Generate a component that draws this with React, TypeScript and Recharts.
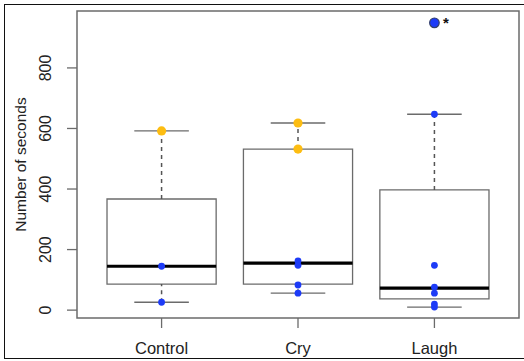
import { ComposedChart, LabelList, ReferenceArea, ReferenceLine, Scatter, XAxis, YAxis } from "recharts"

const groups = ["Control", "Cry", "Laugh"]
const lowerWhisker = [26, 56, 10]
const lowerQuartile = [86, 86, 37]
const medians = [145, 155, 73]
const upperQuartile = [367, 532, 397]
const upperWhisker = [592, 618, 647]

// observations drawn on top of each box
const yellowPoints = [[592], [618, 532], []]
const bluePoints = [[145, 26], [163, 148, 83, 56], [647, 148, 76, 56, 20, 10]]
const outlierPoints = [[], [], [949]]
const outlierMark = "*"

const yTicks = [0, 200, 400, 600, 800]
const xDomain: [number, number] = [0.38, 3.62]
const yDomain: [number, number] = [-26, 988]

const yellow = "#FDBD12"
const blue = "#1D3BF7"
const boxStroke = "#6b6b6b"
const whiskerStroke = "#555"
const textColor = "#222"
const font = "'Liberation Sans', Arial, sans-serif"

const toPoints = (lists: number[][]) =>
  lists.flatMap((values, i) => values.map((y) => ({ x: i + 1, y })))

const yellowData = toPoints(yellowPoints)
const blueData = toPoints(bluePoints)
const outlierData = toPoints(outlierPoints).map((p) => ({ ...p, mark: outlierMark }))

const dot = (color: string, r: number, stroke?: string) => (props: any) => (
  <circle cx={props.cx} cy={props.cy} r={r} fill={color} stroke={stroke ?? "none"} strokeWidth={stroke ? 1.2 : 0} />
)

const YTick = ({ x, y, payload }: any) => (
  <text
    x={x - 8}
    y={y}
    transform={`rotate(-90, ${x - 8}, ${y})`}
    textAnchor="middle"
    dominantBaseline="central"
    fontSize={16}
    fontFamily={font}
    fill={textColor}
  >
    {payload.value}
  </text>
)

const YTitle = ({ viewBox }: any) => {
  const cx = viewBox.x + 20
  const cy = viewBox.y + viewBox.height / 2
  return (
    <text
      x={cx}
      y={cy}
      transform={`rotate(-90, ${cx}, ${cy})`}
      textAnchor="middle"
      dominantBaseline="central"
      fontSize={15.5}
      fontFamily={font}
      fill={textColor}
    >
      Number of seconds
    </text>
  )
}

export default function App() {
  return (
    <div style={{ position: "absolute", left: 0, top: 0, width: 524, height: 361, background: "#fff", overflow: "hidden" }}>
      <div
        style={{
          position: "absolute",
          left: 4,
          top: 4,
          width: 540,
          height: 353,
          borderTop: "1.5px solid #111",
          borderLeft: "1.5px solid #111",
          borderBottom: "1.5px solid #111",
        }}
      />
      <div style={{ position: "absolute", left: 0, top: 0 }}>
        <ComposedChart width={524} height={361} margin={{ top: 11, right: 5, left: 0, bottom: 0 }}>
          <XAxis
            type="number"
            dataKey="x"
            domain={xDomain}
            ticks={[1, 2, 3]}
            allowDataOverflow
            tickFormatter={(v: number) => groups[v - 1]}
            axisLine={false}
            tickSize={10}
            tickMargin={14}
            tickLine={{ stroke: boxStroke, strokeWidth: 1.3 }}
            tick={{ fontSize: 16.5, fill: textColor, fontFamily: font }}
            height={43}
          />
          <YAxis
            type="number"
            dataKey="y"
            domain={yDomain}
            ticks={yTicks}
            allowDataOverflow
            axisLine={false}
            tickSize={10}
            tickMargin={13}
            tickLine={{ stroke: boxStroke, strokeWidth: 1.3 }}
            tick={<YTick />}
            width={77}
            label={{ content: <YTitle /> }}
          />
          <ReferenceArea
            x1={xDomain[0]}
            x2={xDomain[1]}
            y1={yDomain[0]}
            y2={yDomain[1]}
            fill="none"
            stroke={boxStroke}
            strokeWidth={1.5}
          />
          {groups.map((g, i) => (
            <ReferenceArea
              key={`box-${g}`}
              x1={i + 1 - 0.4}
              x2={i + 1 + 0.4}
              y1={lowerQuartile[i]}
              y2={upperQuartile[i]}
              fill="none"
              stroke={boxStroke}
              strokeWidth={1.3}
            />
          ))}
          {groups.map((g, i) => (
            <ReferenceLine
              key={`wu-${g}`}
              segment={[{ x: i + 1, y: upperQuartile[i] }, { x: i + 1, y: upperWhisker[i] }]}
              stroke={whiskerStroke}
              strokeWidth={1.5}
              strokeDasharray="4 4"
            />
          ))}
          {groups.map((g, i) => (
            <ReferenceLine
              key={`wl-${g}`}
              segment={[{ x: i + 1, y: lowerWhisker[i] }, { x: i + 1, y: lowerQuartile[i] }]}
              stroke={whiskerStroke}
              strokeWidth={1.5}
              strokeDasharray="4 4"
            />
          ))}
          {groups.map((g, i) => (
            <ReferenceLine
              key={`cu-${g}`}
              segment={[{ x: i + 1 - 0.2, y: upperWhisker[i] }, { x: i + 1 + 0.2, y: upperWhisker[i] }]}
              stroke={boxStroke}
              strokeWidth={1.3}
            />
          ))}
          {groups.map((g, i) => (
            <ReferenceLine
              key={`cl-${g}`}
              segment={[{ x: i + 1 - 0.2, y: lowerWhisker[i] }, { x: i + 1 + 0.2, y: lowerWhisker[i] }]}
              stroke={boxStroke}
              strokeWidth={1.3}
            />
          ))}
          {groups.map((g, i) => (
            <ReferenceLine
              key={`med-${g}`}
              segment={[{ x: i + 1 - 0.4, y: medians[i] }, { x: i + 1 + 0.4, y: medians[i] }]}
              stroke="#000"
              strokeWidth={3.2}
            />
          ))}
          <Scatter data={yellowData} shape={dot(yellow, 4.6)} isAnimationActive={false} />
          <Scatter data={blueData} shape={dot(blue, 3.4)} isAnimationActive={false} />
          <Scatter data={outlierData} shape={dot(blue, 4.8, "#34406b")} isAnimationActive={false}>
            <LabelList dataKey="mark" position="right" offset={4} fontSize={15} fontWeight="bold" fill="#111" fontFamily={font} />
          </Scatter>
        </ComposedChart>
      </div>
    </div>
  )
}
